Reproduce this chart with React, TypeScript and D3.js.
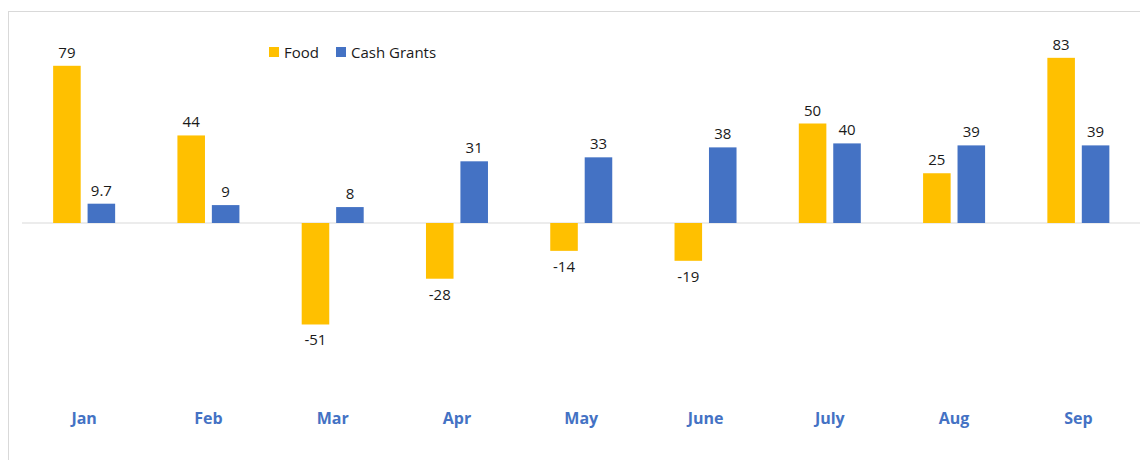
import React from "react";
import * as d3 from "d3";

const categories = ["Jan", "Feb", "Mar", "Apr", "May", "June", "July", "Aug", "Sep"];
const foodValues = [79, 44, -51, -28, -14, -19, 50, 25, 83];
const cashValues = [9.7, 9, 8, 31, 33, 38, 40, 39, 39];
const seriesNames = ["Food", "Cash Grants"];
const seriesColors = ["#FFC000", "#4472C4"];

const W = 1140;
const H = 460;
const FONT = "'Open Sans', 'Noto Sans', sans-serif";

export default function App() {
  const x = d3.scaleBand<string>().domain(categories).range([22, 1140.5]).paddingInner(0).paddingOuter(0);
  const groupW = 62;
  const inner = d3.scaleBand<string>().domain(seriesNames).range([0, groupW]).paddingInner(0.2).paddingOuter(0);
  const y = d3.scaleLinear().domain([-100, 100]).range([422, 24]);
  const series = [foodValues, cashValues];

  return (
    <svg width={W} height={H} style={{ position: "absolute", left: 0, top: 0, background: "#fff" }}>
      <rect x={8.5} y={11.5} width={1200} height={500} fill="#fff" stroke="#d9d9d9" strokeWidth={1} />
      <line x1={x.range()[0]} x2={x.range()[1]} y1={y(0)} y2={y(0)} stroke="#d9d9d9" strokeWidth={1.2} />
      {categories.map((c, i) => {
        const cx = (x(c) as number) + x.bandwidth() / 2;
        const gx = cx - groupW / 2;
        return (
          <g key={c}>
            {series.map((vals, s) => {
              const v = vals[i];
              const bx = gx + (inner(seriesNames[s]) as number);
              const bw = inner.bandwidth();
              const top = Math.min(y(v), y(0));
              const h = Math.abs(y(v) - y(0));
              const ly = v >= 0 ? y(v) - 14 : y(v) + 15;
              return (
                <g key={s}>
                  <rect x={bx} y={top} width={bw} height={h} fill={seriesColors[s]} />
                  <text
                    x={bx + bw / 2}
                    y={ly}
                    textAnchor="middle"
                    dominantBaseline="central"
                    fontFamily={FONT}
                    fontSize={15}
                    fill="#1a1a1a"
                  >
                    {String(v)}
                  </text>
                </g>
              );
            })}
            <text
              x={cx}
              y={418}
              textAnchor="middle"
              dominantBaseline="central"
              fontFamily={FONT}
              fontSize={16}
              fontWeight="bold"
              fill="#4472C4"
            >
              {c}
            </text>
          </g>
        );
      })}
      <g>
        <rect x={269} y={47} width={10} height={10} fill={seriesColors[0]} />
        <text x={284} y={52} dominantBaseline="central" fontFamily={FONT} fontSize={15} fill="#1a1a1a">
          {seriesNames[0]}
        </text>
        <rect x={336} y={47} width={10} height={10} fill={seriesColors[1]} />
        <text x={351} y={52} dominantBaseline="central" fontFamily={FONT} fontSize={15} fill="#1a1a1a">
          {seriesNames[1]}
        </text>
      </g>
    </svg>
  );
}
